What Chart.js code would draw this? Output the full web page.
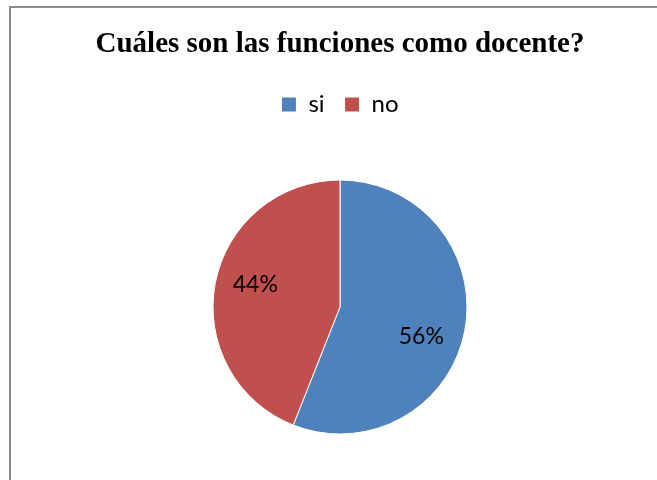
<!DOCTYPE html>
<html>
<head>
<meta charset="utf-8">
<script src="https://cdn.jsdelivr.net/npm/chart.js@4/dist/chart.umd.min.js"></script>
<style>
    html, body { margin: 0; padding: 0; background: #fff; overflow: hidden; }
    #wrap { position: relative; width: 657px; height: 480px; }
    #frame {
        position: absolute; left: 9px; top: 6px; width: 700px; height: 520px;
        border: 2px solid #8c8c8c; box-sizing: border-box;
    }
    canvas { position: absolute; left: 0; top: 0; }
</style>
</head>
<body>
<div id="wrap">
    <div id="frame"></div>
    <canvas id="chart" width="657" height="480"></canvas>
</div>
<script>
// ========================================
// Datos del gráfico
// ========================================
const chartTitle = 'Cuáles son las funciones como docente?';
const categories = ['si', 'no'];
const values = [56, 44];
const colors = ['#4F81BD', '#C0504D'];

// Etiquetas de porcentaje dentro de cada sector
// (posición: fracción del radio y giro en grados respecto al ángulo medio)
const labelPlace = [{ r: 0.68, turn: 9 }, { r: 0.69, turn: 4 }];

const pctLabels = {
    id: 'pctLabels',
    afterDatasetsDraw(chart) {
        const ctx = chart.ctx;
        const meta = chart.getDatasetMeta(0);
        const total = values.reduce((a, b) => a + b, 0);
        ctx.save();
        ctx.font = '23px Lato, Calibri, sans-serif';
        ctx.fillStyle = '#000';
        ctx.textAlign = 'center';
        ctx.textBaseline = 'middle';
        meta.data.forEach((arc, i) => {
            const p = arc.getProps(['x', 'y', 'startAngle', 'endAngle', 'outerRadius'], true);
            const mid = (p.startAngle + p.endAngle) / 2 + labelPlace[i].turn * Math.PI / 180;
            const r = p.outerRadius * labelPlace[i].r;
            const pct = Math.round(values[i] / total * 100) + '%';
            ctx.fillText(pct, p.x + Math.cos(mid) * r, p.y + Math.sin(mid) * r);
        });
        ctx.restore();
    }
};

// Espacio extra bajo la leyenda
const legendGap = {
    id: 'legendGap',
    beforeInit(chart) {
        const fit = chart.legend.fit;
        chart.legend.fit = function () {
            fit.bind(chart.legend)();
            this.height += 7.5;
        };
    }
};

new Chart(document.getElementById('chart'), {
    type: 'pie',
    data: {
        labels: categories,
        datasets: [{
            data: values,
            backgroundColor: colors,
            borderColor: '#ffffff',
            borderWidth: 1,
            radius: 127
        }]
    },
    options: {
        responsive: false,
        animation: false,
        layout: { padding: { left: 23, right: 0, top: 0, bottom: 0 } },
        plugins: {
            title: {
                display: true,
                text: chartTitle,
                color: '#000',
                font: { family: "'Liberation Serif', 'Times New Roman', serif", size: 29, weight: 'bold' },
                padding: { top: 27, bottom: 10.7 }
            },
            legend: {
                position: 'top',
                labels: {
                    color: '#000',
                    font: { family: 'Lato, Calibri, sans-serif', size: 24 },
                    boxWidth: 15,
                    boxHeight: 15,
                    padding: 20
                }
            },
            tooltip: { enabled: false }
        }
    },
    plugins: [legendGap, pctLabels]
});
</script>
</body>
</html>
